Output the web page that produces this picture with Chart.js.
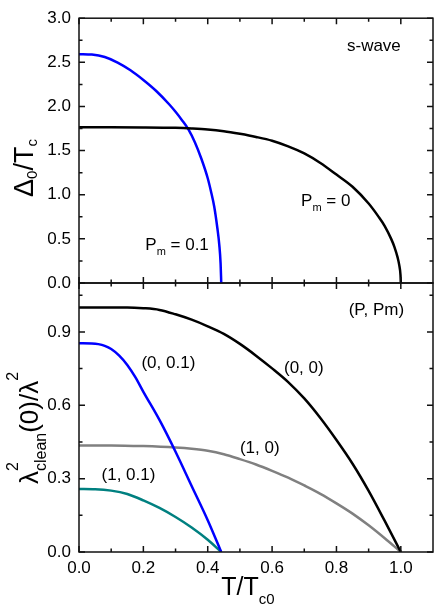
<!DOCTYPE html>
<html>
<head>
<meta charset="utf-8">
<script src="https://cdn.jsdelivr.net/npm/chart.js@4.4.0/dist/chart.umd.min.js"></script>
<style>
body { margin: 0; background: #fff; }
#wrap { position: relative; width: 436px; height: 607px; }
canvas { position: absolute; left: 0; top: 0; }
</style>
</head>
<body>
<div id="wrap">
<canvas id="chart-bottom" width="436" height="607"></canvas>
<canvas id="chart-top" width="436" height="607"></canvas>
</div>
<script>
// tick labels
const xTicks = [0, 0.2, 0.4, 0.6, 0.8, 1.0];
const gapTicks = [0, 0.5, 1.0, 1.5, 2.0, 2.5, 3.0];
const rhoTicks = [0, 0.3, 0.6, 0.9];

// top panel: gap / Tc, Pm = 0
const tGap0 = [0, 0.1, 0.2, 0.3, 0.35, 0.4, 0.45, 0.5, 0.55, 0.6, 0.65, 0.7, 0.75, 0.8, 0.85, 0.9, 0.93, 0.95, 0.97, 0.98, 0.99, 0.995, 0.999, 1.0];
const gap0 = [1.764, 1.764, 1.763, 1.758, 1.751, 1.74, 1.72, 1.69, 1.655, 1.612, 1.548, 1.468, 1.36, 1.228, 1.09, 0.90, 0.755, 0.645, 0.50, 0.41, 0.29, 0.205, 0.09, 0];
// top panel: Pm = 0.1
const tGap1 = [0, 0.04, 0.08, 0.12, 0.16, 0.2, 0.24, 0.28, 0.3, 0.32, 0.34, 0.36, 0.38, 0.4, 0.41, 0.42, 0.43, 0.436, 0.44, 0.442];
const gap1 = [2.593, 2.588, 2.56, 2.497, 2.41, 2.30, 2.175, 2.025, 1.94, 1.845, 1.74, 1.595, 1.41, 1.187, 1.04, 0.87, 0.62, 0.43, 0.22, 0];

// bottom panel: superfluid density, (P, Pm)
const tRho00 = [0, 0.1, 0.15, 0.2, 0.25, 0.3, 0.35, 0.4, 0.45, 0.5, 0.55, 0.6, 0.65, 0.7, 0.75, 0.8, 0.85, 0.9, 0.95, 1.0];
const rho00 = [1.0, 1.0, 1.0, 0.997, 0.99, 0.972, 0.95, 0.923, 0.892, 0.851, 0.803, 0.751, 0.695, 0.628, 0.548, 0.458, 0.361, 0.25, 0.127, 0];
const tRho10 = [0, 0.1, 0.2, 0.3, 0.35, 0.4, 0.45, 0.5, 0.55, 0.6, 0.65, 0.7, 0.75, 0.8, 0.85, 0.9, 0.95, 1.0];
const rho10 = [0.436, 0.436, 0.433, 0.427, 0.422, 0.414, 0.40, 0.38, 0.358, 0.332, 0.304, 0.272, 0.238, 0.199, 0.157, 0.109, 0.056, 0];
const tRho01 = [0, 0.04, 0.06, 0.08, 0.1, 0.125, 0.15, 0.175, 0.2, 0.25, 0.3, 0.35, 0.4, 0.442];
const rho01 = [0.854, 0.853, 0.85, 0.843, 0.83, 0.803, 0.765, 0.715, 0.655, 0.54, 0.41, 0.27, 0.13, 0];
const tRho11 = [0, 0.05, 0.1, 0.15, 0.2, 0.25, 0.3, 0.35, 0.4, 0.442];
const rho11 = [0.258, 0.257, 0.251, 0.237, 0.211, 0.18, 0.143, 0.1, 0.05, 0];

const FONT = '"Liberation Sans", Arial, Helvetica, sans-serif';
Chart.defaults.font.family = FONT;
Chart.defaults.font.size = 17;
Chart.defaults.color = '#000';

function pts(xs, ys) {
    return xs.map((x, i) => ({ x: x, y: ys[i] }));
}

// draw a run of text pieces (with sub/superscripts) starting at x
function richText(ctx, parts, x, y, align) {
    let w = 0;
    parts.forEach(p => {
        if (p.stack) {
            p.w = Math.max(...p.stack.map(s => { ctx.font = s.size + 'px ' + FONT; return ctx.measureText(s.text).width; }));
        } else {
            ctx.font = p.size + 'px ' + FONT;
            p.w = ctx.measureText(p.text).width;
        }
        w += p.w;
    });
    let cx = align === 'center' ? x - w / 2 : align === 'right' ? x - w : x;
    ctx.textAlign = 'left';
    ctx.textBaseline = 'alphabetic';
    parts.forEach(p => {
        const items = p.stack || [p];
        items.forEach(s => {
            ctx.font = s.size + 'px ' + FONT;
            ctx.fillText(s.text, cx, y + (s.dy || 0));
        });
        cx += p.w;
    });
}

const framePlugin = {
    id: 'frame',
    afterDatasetsDraw(chart, args, opts) {
        const ctx = chart.ctx, a = chart.chartArea;
        const x = chart.scales.x, y = chart.scales.y;
        ctx.save();
        ctx.strokeStyle = '#111';
        ctx.lineWidth = 1.5;
        ctx.strokeRect(a.left, a.top, a.right - a.left, a.bottom - a.top);
        ctx.beginPath();
        const xt = (v, len) => {
            const px = x.getPixelForValue(v);
            ctx.moveTo(px, a.bottom); ctx.lineTo(px, a.bottom - len);
            ctx.moveTo(px, a.top); ctx.lineTo(px, a.top + len);
        };
        const yt = (v, len) => {
            const py = y.getPixelForValue(v);
            ctx.moveTo(a.left, py); ctx.lineTo(a.left + len, py);
            ctx.moveTo(a.right, py); ctx.lineTo(a.right - len, py);
        };
        opts.xMajor.forEach(v => xt(v, 6));
        opts.xMinor.forEach(v => xt(v, 3.5));
        opts.yMajor.forEach(v => yt(v, 6));
        opts.yMinor.forEach(v => yt(v, 3.5));
        ctx.stroke();
        ctx.restore();
    }
};

const textPlugin = {
    id: 'texts',
    afterDraw(chart, args, opts) {
        const ctx = chart.ctx;
        const x = chart.scales.x, y = chart.scales.y;
        ctx.save();
        ctx.fillStyle = '#000';
        (opts.labels || []).forEach(l => {
            richText(ctx, l.parts, x.getPixelForValue(l.x), y.getPixelForValue(l.y), l.align || 'left');
        });
        (opts.titles || []).forEach(t => {
            ctx.save();
            ctx.translate(t.px, t.py);
            if (t.rotate) ctx.rotate(-Math.PI / 2);
            richText(ctx, t.parts, 0, 0, 'center');
            ctx.restore();
        });
        ctx.restore();
    }
};

function baseOptions() {
    return {
        responsive: false,
        animation: false,
        devicePixelRatio: 1,
        elements: {
            point: { radius: 0 },
            line: { borderWidth: 2.5, cubicInterpolationMode: 'monotone' }
        }
    };
}

function line(data, color) {
    return { data: data, borderColor: color, showLine: true, fill: false };
}

const topOpts = baseOptions();
topOpts.layout = { padding: { top: 14, right: 3, left: 0, bottom: 607 - 283 } };
topOpts.scales = {
    x: { type: 'linear', min: 0, max: 1.1, display: false },
    y: {
        type: 'linear', min: 0, max: 3.0,
        grid: { display: false, drawTicks: false },
        border: { display: false },
        afterBuildTicks: s => { s.ticks = gapTicks.map(v => ({ value: v })); },
        afterFit: s => { s.width = 79; },
        ticks: { padding: 8, callback: v => v.toFixed(1) }
    }
};
topOpts.plugins = {
    legend: { display: false },
    tooltip: { enabled: false },
    frame: {
        xMajor: xTicks, xMinor: [0.1, 0.3, 0.5, 0.7, 0.9],
        yMajor: gapTicks, yMinor: [0.25, 0.75, 1.25, 1.75, 2.25, 2.75]
    },
    texts: {
        labels: [
            { x: 1.0, y: 2.63, align: 'right', parts: [{ text: 's-wave', size: 17 }] },
            { x: 0.69, y: 0.87, parts: [{ text: 'P', size: 17 }, { text: 'm', size: 11, dy: 5 }, { text: ' = 0', size: 17 }] },
            { x: 0.206, y: 0.376, parts: [{ text: 'P', size: 17 }, { text: 'm', size: 11, dy: 5 }, { text: ' = 0.1', size: 17 }] }
        ],
        titles: [
            { px: 33, py: 168, rotate: true, parts: [{ text: 'Δ', size: 27 }, { text: '0', size: 15, dy: 4 }, { text: '/T', size: 27 }, { text: 'c', size: 15, dy: 4 }] }
        ]
    }
};

new Chart(document.getElementById('chart-top'), {
    type: 'scatter',
    data: {
        datasets: [
            line(pts(tGap0, gap0), '#000000'),
            line(pts(tGap1, gap1), '#0000ff')
        ]
    },
    options: topOpts,
    plugins: [framePlugin, textPlugin]
});

const bottomOpts = baseOptions();
bottomOpts.layout = { padding: { top: 283, right: 3, left: 0, bottom: 0 } };
bottomOpts.scales = {
    x: {
        type: 'linear', min: 0, max: 1.1,
        grid: { display: false, drawTicks: false },
        border: { display: false },
        afterBuildTicks: s => { s.ticks = xTicks.map(v => ({ value: v })); },
        afterFit: s => { s.height = 55; },
        ticks: { padding: 6, maxRotation: 0, callback: v => v.toFixed(1) }
    },
    y: {
        type: 'linear', min: 0, max: 1.1,
        grid: { display: false, drawTicks: false },
        border: { display: false },
        afterBuildTicks: s => { s.ticks = rhoTicks.map(v => ({ value: v })); },
        afterFit: s => { s.width = 79; },
        ticks: { padding: 8, callback: v => v.toFixed(1) }
    }
};
bottomOpts.plugins = {
    legend: { display: false },
    tooltip: { enabled: false },
    frame: {
        xMajor: xTicks, xMinor: [0.1, 0.3, 0.5, 0.7, 0.9],
        yMajor: rhoTicks, yMinor: [0.15, 0.45, 0.75, 1.05]
    },
    texts: {
        labels: [
            { x: 0.838, y: 0.969, parts: [{ text: '(P, Pm)', size: 17 }] },
            { x: 0.194, y: 0.751, parts: [{ text: '(0, 0.1)', size: 17 }] },
            { x: 0.637, y: 0.730, parts: [{ text: '(0, 0)', size: 17 }] },
            { x: 0.50, y: 0.403, parts: [{ text: '(1, 0)', size: 17 }] },
            { x: 0.07, y: 0.296, parts: [{ text: '(1, 0.1)', size: 17 }] }
        ],
        titles: [
            { px: 38, py: 428, rotate: true, parts: [
                { text: 'λ', size: 26 },
                { stack: [{ text: '2', size: 16, dy: -20 }, { text: 'clean', size: 16, dy: 8 }] },
                { text: '(0)/λ', size: 26 },
                { text: '2', size: 16, dy: -20 }
            ] },
            { px: 248, py: 595, parts: [{ text: 'T/T', size: 25 }, { text: 'c0', size: 15, dy: 9 }] }
        ]
    }
};

new Chart(document.getElementById('chart-bottom'), {
    type: 'scatter',
    data: {
        datasets: [
            line(pts(tRho00, rho00), '#000000'),
            line(pts(tRho01, rho01), '#0000ff'),
            line(pts(tRho10, rho10), '#808080'),
            line(pts(tRho11, rho11), '#008080')
        ]
    },
    options: bottomOpts,
    plugins: [framePlugin, textPlugin]
});
</script>
</body>
</html>
